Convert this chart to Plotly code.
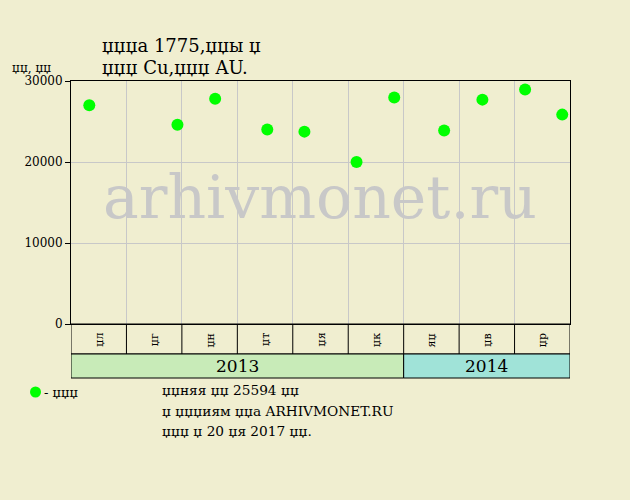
import plotly.graph_objects as go

# data
month_labels = ["џл", "џг", "џн", "џт", "џя", "џк", "яџ", "џв", "џр"]
years = ["2013", "2014"]
year_spans = [6, 3]
year_colors = ["#c8ebb8", "#a0e3d8"]
sale_pos = [0.33, 1.92, 2.60, 3.54, 4.21, 5.15, 5.83, 6.73, 7.42, 8.19, 8.86]
sale_price = [27000, 24600, 27800, 24000, 23750, 20000, 27950, 23900, 27700, 28950, 25850]
y_ticks = [0, 10000, 20000, 30000]
title_lines = ["џџџа 1775,џџы џ", "џџџ Cu,џџџ AU."]
y_label = "џџ, џџ"
legend_label = "- џџџ"
note_lines = ["џџняя џџ 25594 џџ", "џ џџџиям џџа ARHIVMONET.RU", "џџџ џ 20 џя 2017 џџ."]

BG = "#f0eed0"
FONT = "DejaVu Serif"

fig = go.Figure()
fig.add_trace(go.Scatter(
    x=sale_pos, y=sale_price, mode="markers",
    marker=dict(color="#00ff00", size=12, line=dict(width=0)),
    showlegend=False, cliponaxis=False,
))

def px_x(p):
    return (p - 71) / (570 - 71)

def px_y(p):
    return (324 - p) / (324 - 81)

n = len(month_labels)
shapes = []
annotations = []
cell_bot = px_y(354)
band_bot = px_y(378)
shapes.append(dict(type="rect", xref="x", yref="paper", x0=0, x1=n, y0=cell_bot, y1=0,
                   line=dict(color="black", width=1), fillcolor="rgba(0,0,0,0)"))
for i in range(1, n):
    shapes.append(dict(type="line", xref="x", yref="paper", x0=i, x1=i, y0=cell_bot, y1=0,
                       line=dict(color="black", width=1)))
for i, lab in enumerate(month_labels):
    annotations.append(dict(x=i + 0.5, y=px_y(340), xref="x", yref="paper", text=lab,
                            showarrow=False, textangle=-90, xanchor="center", yanchor="middle",
                            font=dict(family=FONT, size=11, color="black")))
start = 0
for yr, span, col in zip(years, year_spans, year_colors):
    shapes.append(dict(type="rect", xref="x", yref="paper", x0=start, x1=start + span,
                       y0=band_bot, y1=cell_bot, fillcolor=col,
                       line=dict(color="black", width=1)))
    annotations.append(dict(x=start + span / 2, y=(band_bot + cell_bot) / 2, xref="x", yref="paper",
                            text=yr, showarrow=False, xanchor="center", yanchor="middle",
                            font=dict(family=FONT, size=17, color="black")))
    start += span

# watermark
annotations.append(dict(x=px_x(320), y=px_y(197), xref="paper", yref="paper", text="arhivmonet.ru",
                        showarrow=False, xanchor="center", yanchor="middle",
                        font=dict(family=FONT, size=60, color="#c8c8c8")))

for k, line in enumerate(title_lines):
    annotations.append(dict(x=px_x(100), y=px_y(45 + 22 * k), xref="paper", yref="paper",
                            text=line, showarrow=False, xanchor="left", yanchor="middle",
                            font=dict(family=FONT, size=18, color="black")))
annotations.append(dict(x=px_x(10), y=px_y(68), xref="paper", yref="paper",
                        text=y_label, showarrow=False, xanchor="left", yanchor="middle",
                        font=dict(family=FONT, size=12, color="black")))
annotations.append(dict(x=px_x(42), y=px_y(392), xref="paper", yref="paper",
                        text=legend_label, showarrow=False, xanchor="left", yanchor="middle",
                        font=dict(family=FONT, size=13, color="black")))
shapes.append(dict(type="circle", xref="paper", yref="paper",
                   x0=px_x(30), x1=px_x(41), y0=px_y(397.5), y1=px_y(386.5),
                   fillcolor="#00ff00", line=dict(width=0)))
for k, line in enumerate(note_lines):
    annotations.append(dict(x=px_x(160), y=px_y(390 + 20.5 * k), xref="paper", yref="paper",
                            text=line, showarrow=False, xanchor="left", yanchor="middle",
                            font=dict(family=FONT, size=13.7, color="black")))

fig.update_layout(
    width=630, height=500,
    margin=dict(l=71, r=60, t=81, b=176, pad=0),
    paper_bgcolor=BG, plot_bgcolor=BG,
    shapes=shapes, annotations=annotations,
    xaxis=dict(range=[0, n], showticklabels=False, showgrid=True, dtick=1, tick0=0,
               gridcolor="#c8c8c8", gridwidth=1, zeroline=False,
               showline=True, linecolor="black", linewidth=1, mirror=True, ticks=""),
    yaxis=dict(range=[0, 30000], tickvals=y_ticks, ticktext=[str(v) for v in y_ticks],
               showgrid=True, gridcolor="#c8c8c8", zeroline=False, showline=True,
               linecolor="black", linewidth=1, mirror=True, ticks="outside", ticklen=5,
               tickcolor="black", tickfont=dict(family=FONT, size=12, color="black")),
    font=dict(family=FONT),
)
fig.write_html("out.html", config={"displayModeBar": False},
               post_script="document.body.style.margin='0';")
